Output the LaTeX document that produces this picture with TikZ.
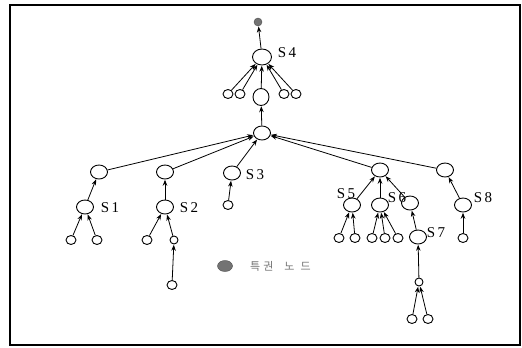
\documentclass[tikz,border=0pt]{standalone}
\usepackage{fontspec}
\setmainfont{Liberation Serif}
\newfontfamily\krfont{Noto Sans CJK KR}
\usetikzlibrary{arrows.meta,shapes.geometric}
\begin{document}
\begin{tikzpicture}[x=1pt,y=-1pt,
  nd/.style={draw,ellipse,line width=0.9pt,minimum width=17pt,minimum height=14pt,inner sep=0pt},
  big/.style={nd,minimum width=19pt,minimum height=16pt},
  lf/.style={draw,ellipse,line width=0.9pt,minimum width=10pt,minimum height=9pt,inner sep=0pt},
  priv/.style={draw=black!70,fill=black!55,ellipse,minimum width=8pt,minimum height=8pt,inner sep=0pt},
  lab/.style={font=\fontsize{15}{15}\selectfont,inner sep=0pt},
  ed/.style={-{Stealth[length=6pt,width=4.5pt]},line width=0.8pt,shorten >=0.3pt}]
\useasboundingbox (0,0) rectangle (522,348);
\draw[line width=1.2pt] (10,5) rectangle (520,345);

% upper part
\node[priv] (p) at (258,22) {};
\node[big] (s4) at (262,57) {};
\node[lab] at (287,53) {S\,4};
\node[lf] (a1) at (228,94) {};
\node[lf] (a2) at (240,94) {};
\node[lf] (a3) at (284,94) {};
\node[lf] (a4) at (296,94) {};
\node[nd,minimum width=16pt,minimum height=17pt] (m) at (261,97) {};
\node[nd] (h) at (262,133) {};

\draw[ed] (s4) -- (p);
\foreach \n in {a1,a2,a3,a4,m} \draw[ed] (\n) -- (s4);
\draw[ed] (h) -- (m);

% second level
\node[nd] (l1) at (99,172) {};
\node[nd] (l2) at (165,172) {};
\node[nd] (s3) at (232,173) {};
\node[lab] at (255,175) {S\,3};
\node[nd] (r1) at (380,170) {};
\node[nd] (r2) at (445,170) {};
\foreach \n in {l1,l2,s3,r1,r2} \draw[ed] (\n) -- (h);

% left subtrees
\node[nd] (s1) at (85,207) {};
\node[lab] at (110,208) {S\,1};
\node[nd] (s2) at (165,207) {};
\node[lab] at (189,208) {S\,2};
\node[lf] (c1) at (71,240) {};
\node[lf] (c2) at (97,240) {};
\node[lf] (c3) at (147,240) {};
\node[lf,minimum width=8pt,minimum height=8pt] (c4) at (174,240) {};
\node[lf] (c5) at (172,285) {};
\node[lf] (c6) at (228,205) {};
\draw[ed] (s1) -- (l1);
\draw[ed] (s2) -- (l2);
\draw[ed] (c6) -- (s3);
\draw[ed] (c1) -- (s1);
\draw[ed] (c2) -- (s1);
\draw[ed] (c3) -- (s2);
\draw[ed] (c4) -- (s2);
\draw[ed] (c5) -- (c4);

% right subtrees
\node[nd] (s5) at (352,205) {};
\node[lab] at (346,194) {S\,5};
\node[nd] (s6) at (380,205) {};
\node[lab] at (397,198) {S\,6};
\node[nd] (t) at (410,203) {};
\node[nd] (s8) at (463,205) {};
\node[lab] at (483,198) {S\,8};
\node[nd] (s7) at (418,237) {};
\node[lab] at (436,233) {S\,7};
\draw[ed] (s5) -- (r1);
\draw[ed] (s6) -- (r1);
\draw[ed] (t) -- (r1);
\draw[ed] (s8) -- (r2);
\draw[ed] (s7) -- (t);

\node[lf] (d1) at (339,238) {};
\node[lf] (d2) at (355,238) {};
\node[lf] (d3) at (372,238) {};
\node[lf] (d4) at (385,238) {};
\node[lf] (d5) at (398,238) {};
\node[lf] (d6) at (463,238) {};
\draw[ed] (d1) -- (s5);
\draw[ed] (d2) -- (s5);
\foreach \n in {d3,d4,d5} \draw[ed] (\n) -- (s6);
\draw[ed] (d6) -- (s8);

\node[lf,minimum width=8pt,minimum height=8pt] (e) at (419,282) {};
\node[lf] (e1) at (412,319) {};
\node[lf] (e2) at (428,319) {};
\draw[ed] (e) -- (s7);
\draw[ed] (e1) -- (e);
\draw[ed] (e2) -- (e);

% legend
\node[priv,minimum width=15pt,minimum height=11pt] (lg) at (225,266) {};
\node[anchor=west,inner sep=0pt,text=black!55,font=\krfont\fontsize{11}{11}\selectfont] (lt) at (250,266) {특\hspace{3pt}권\hspace{11pt}노\hspace{6pt}드};
\end{tikzpicture}
\end{document}
